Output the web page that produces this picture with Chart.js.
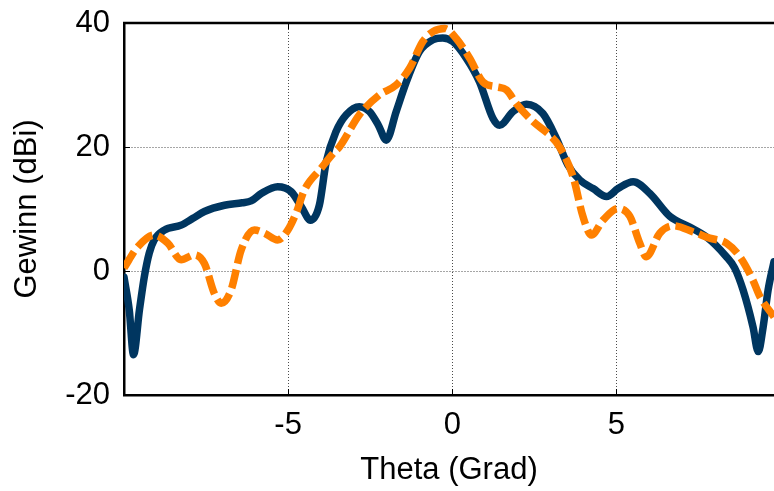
<!DOCTYPE html>
<html>
<head>
<meta charset="utf-8">
<script src="https://cdn.jsdelivr.net/npm/chart.js@4"></script>
<style>
  html, body { margin: 0; padding: 0; background: #fff; }
  #wrap { width: 774px; height: 491px; }
</style>
</head>
<body>
<div id="wrap"><canvas id="gainChart" width="774" height="491"></canvas></div>
<script>
// Antenna pattern: gain over theta, two cuts
const thetaSolid = [-10.0, -9.84, -9.71, -9.53, -9.38, -9.23, -9.08, -8.77, -8.26, -7.9, -7.55, -6.94, -6.4, -6.13,
    -5.82, -5.32, -4.91, -4.6, -4.32, -4.05, -3.84, -3.54, -3.23, -2.83, -2.52, -2.25, -2.01, -1.71, -1.4, -1.0,
    -0.59, -0.29, 0.02, 0.43, 0.83, 1.24, 1.44, 1.85, 2.26, 2.76, 3.17, 3.52, 3.88, 4.29, 4.7, 5.05, 5.51, 6.02,
    6.63, 7.23, 7.74, 8.35, 8.6, 8.86, 9.16, 9.32, 9.47, 9.62, 9.8];
const gainSolid = [-1.0, -6.3, -13.5, -6.3, -0.9, 2.9, 5.0, 6.6, 7.4, 8.5, 9.6, 10.6, 11.0, 11.3,
    12.5, 13.6, 12.8, 10.4, 8.2, 10.6, 17.6, 22.5, 25.2, 26.5, 25.7, 23.5, 21.1, 25.7, 30.5, 35.4,
    37.3, 37.6, 37.0, 34.3, 30.5, 24.6, 23.5, 25.7, 26.9, 25.4, 21.4, 17.1, 14.7, 13.3, 12.0, 13.3, 14.4, 12.5,
    8.8, 7.1, 5.5, 2.3, 0.5, -3.1, -9.0, -13.0, -9.0, -3.1, 1.5];

const thetaDashed = [-10.0, -9.58, -9.08, -8.67, -8.26, -7.86, -7.55, -7.25, -7.04, -6.74, -6.43, -6.03, -5.72,
    -5.32, -5.01, -4.76, -4.5, -3.99, -3.59, -3.44, -2.83, -2.22, -1.71, -1.3, -0.9, -0.59, -0.23, 0.12, 0.53,
    0.93, 1.34, 1.65, 1.95, 2.46, 2.97, 3.27, 3.68, 3.98, 4.24, 4.59, 5.05, 5.41, 5.71, 5.91, 6.32, 6.73, 7.34,
    7.84, 8.35, 8.76, 9.16, 9.37, 9.8];
const gainDashed = [0.5, 3.9, 5.8, 4.5, 1.8, 2.6, 1.2, -3.6, -5.2, -3.1, 3.4, 6.6, 6.1,
    5.0, 6.6, 9.3, 13.1, 16.6, 19.2, 20.0, 25.2, 28.4, 30.0, 32.7, 37.0, 38.6, 39.1, 37.5, 34.3,
    30.5, 29.7, 29.2, 27.0, 24.1, 21.9, 20.0, 15.2, 8.8, 5.8, 8.2, 10.1, 8.8, 4.5, 2.3, 6.1, 7.3, 6.3,
    5.3, 4.5, 2.3, -1.5, -4.1, -7.4];

const xTicks = [-5, 0, 5];
const yTicks = [-20, 0, 20, 40];
const yGridAt = [0, 20];

const toPoints = (xs, ys) => xs.map((x, i) => ({ x: x, y: ys[i] }));

const FONT = "'Liberation Sans', Arial, sans-serif";
const GRID = 'rgba(0,0,0,0.7)';

// top frame line and small inward tick marks
const frameTicks = {
    id: 'frameTicks',
    afterDatasetsDraw(chart) {
        const { ctx, chartArea: a, scales: { x, y } } = chart;
        ctx.save();
        ctx.strokeStyle = '#000';
        ctx.lineWidth = 2.5;
        ctx.beginPath();
        ctx.moveTo(a.left - 1, a.top);
        ctx.lineTo(a.right + 2, a.top);
        ctx.stroke();
        ctx.lineWidth = 1;
        ctx.beginPath();
        xTicks.forEach(v => {
            const px = Math.round(x.getPixelForValue(v)) + 0.5;
            ctx.moveTo(px, a.bottom);
            ctx.lineTo(px, a.bottom - 6);
            ctx.moveTo(px, a.top);
            ctx.lineTo(px, a.top + 6);
        });
        yGridAt.forEach(v => {
            const py = Math.round(y.getPixelForValue(v)) + 0.5;
            ctx.moveTo(a.left, py);
            ctx.lineTo(a.left + 6, py);
        });
        ctx.stroke();
        ctx.restore();
    }
};

const ctx = document.getElementById('gainChart').getContext('2d');
new Chart(ctx, {
    type: 'line',
    data: {
        datasets: [{
            data: toPoints(thetaDashed, gainDashed),
            borderColor: '#ff8000',
            borderWidth: 7.5,
            borderDash: [19, 6],
            borderCapStyle: 'butt',
            cubicInterpolationMode: 'monotone',
            pointRadius: 0,
            fill: false,
            clip: 0
        }, {
            data: toPoints(thetaSolid, gainSolid),
            borderColor: '#003660',
            borderWidth: 7.5,
            borderJoinStyle: 'round',
            borderCapStyle: 'round',
            cubicInterpolationMode: 'monotone',
            pointRadius: 0,
            fill: false,
            clip: 0
        }]
    },
    options: {
        responsive: false,
        animation: false,
        layout: { padding: { top: 23, right: 0, bottom: 0, left: 0 } },
        plugins: {
            legend: { display: false },
            tooltip: { enabled: false }
        },
        scales: {
            x: {
                type: 'linear',
                min: -10,
                max: 9.8,
                afterBuildTicks: s => { s.ticks = xTicks.map(v => ({ value: v })); },
                afterFit: s => { s.height = 96; s.paddingLeft = 0; s.paddingRight = 0; },
                border: { display: true, color: '#000', width: 2.5, dash: [1, 2] },
                grid: {
                    color: GRID,
                    lineWidth: 1,
                    drawTicks: false
                },
                ticks: {
                    color: '#000',
                    padding: 12,
                    maxRotation: 0,
                    font: { family: FONT, size: 31 }
                },
                title: {
                    display: true,
                    text: 'Theta (Grad)',
                    color: '#000',
                    padding: { top: 0, bottom: 2 },
                    font: { family: FONT, size: 31 }
                }
            },
            y: {
                min: -20,
                max: 40,
                afterBuildTicks: s => { s.ticks = yTicks.map(v => ({ value: v })); },
                afterFit: s => { s.width = 124; s.paddingTop = 0; s.paddingBottom = 0; },
                border: { display: true, color: '#000', width: 2.5, dash: [1, 2] },
                grid: {
                    color: c => (c.tick && yGridAt.includes(c.tick.value)) ? GRID : 'rgba(0,0,0,0)',
                    lineWidth: 1,
                    drawTicks: false
                },
                ticks: {
                    color: '#000',
                    padding: 14,
                    font: { family: FONT, size: 31 }
                },
                title: {
                    display: true,
                    text: 'Gewinn (dBi)',
                    color: '#000',
                    padding: { top: 9, bottom: 0 },
                    font: { family: FONT, size: 31 }
                }
            }
        }
    },
    plugins: [frameTicks]
});
</script>
</body>
</html>
